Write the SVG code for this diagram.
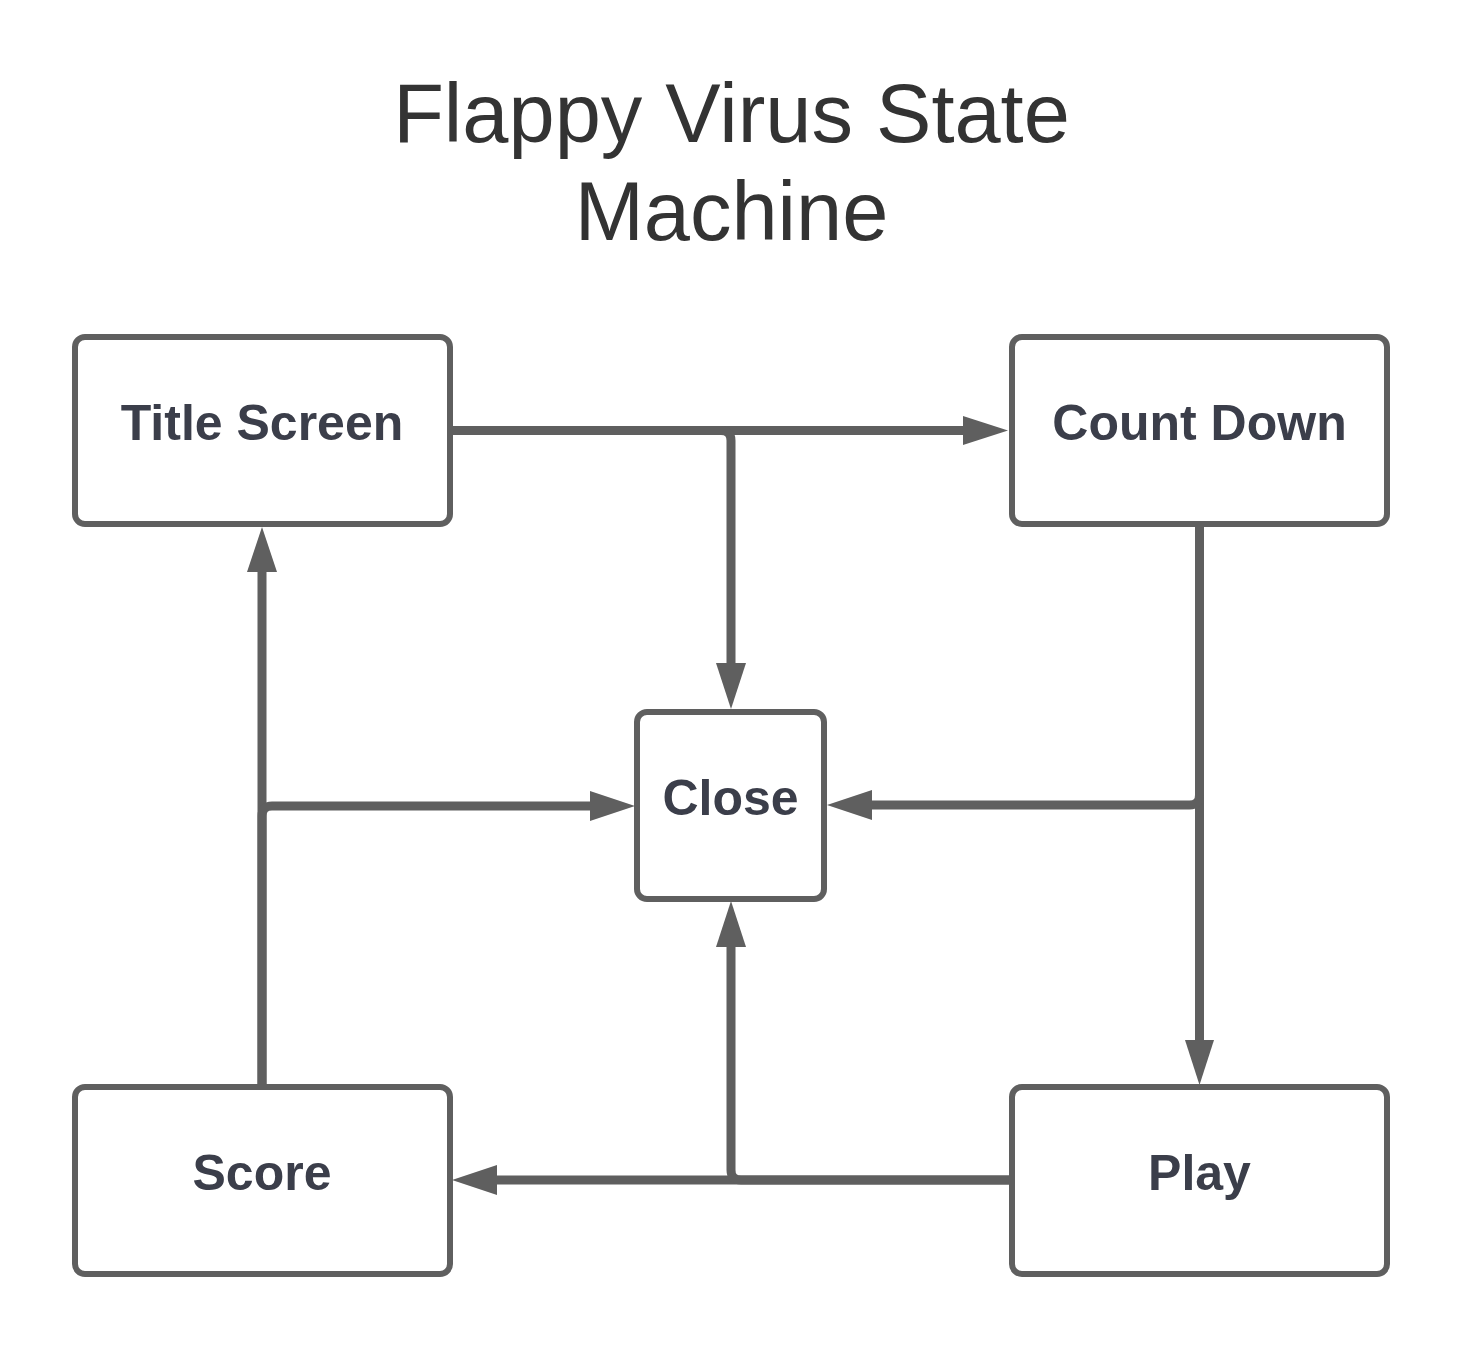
<svg xmlns="http://www.w3.org/2000/svg" width="1463" height="1350" viewBox="0 0 1463 1350">
<style>
.box{fill:#fff;stroke:#5f5f5f;stroke-width:6}
.lbl{font-family:"Liberation Sans",Arial,sans-serif;font-weight:bold;font-size:50px;fill:#3b3e4a;text-anchor:middle}
.title{font-family:"Liberation Sans",Arial,sans-serif;font-size:83px;fill:#333;text-anchor:middle}
.con{fill:none;stroke:#5f5f5f;stroke-width:9}
.head{fill:#5f5f5f}
</style>
<rect width="1463" height="1350" fill="#fff"/>
<text class="title" x="731.5" y="142">Flappy Virus State</text>
<text class="title" x="731.5" y="240">Machine</text>
<g id="connectors">
<path class="con" d="M452,430.5 H966"/>
<polygon class="head" points="963,416 1008,430.5 963,445"/>
<path class="con" d="M452,430.5 H721 Q731,430.5 731,440.5 V666"/>
<polygon class="head" points="716,663 731,709 746,663"/>
<path class="con" d="M1199.5,527 V1043"/>
<polygon class="head" points="1185,1040 1199.5,1085 1214,1040"/>
<path class="con" d="M1199.5,527 V795 Q1199.5,805 1189.5,805 H869"/>
<polygon class="head" points="872,790 827,805 872,820"/>
<path class="con" d="M262,1085 V569"/>
<polygon class="head" points="247,572 262,527 277,572"/>
<path class="con" d="M262,1085 V816 Q262,806 272,806 H593"/>
<polygon class="head" points="590,791 635,806 590,821"/>
<path class="con" d="M1009,1180 H494"/>
<polygon class="head" points="497,1165 452,1180 497,1195"/>
<path class="con" d="M1009,1180 H741 Q731,1180 731,1170 V944"/>
<polygon class="head" points="716,947 731,901 746,947"/>
</g>
<g id="title-screen">
<rect class="box" x="75" y="337" width="375" height="187" rx="10"/>
<text class="lbl" x="262" y="440">Title Screen</text>
</g>
<g id="count-down">
<rect class="box" x="1012" y="337" width="375" height="187" rx="10"/>
<text class="lbl" x="1199.5" y="440">Count Down</text>
</g>
<g id="close">
<rect class="box" x="637" y="712" width="187" height="187" rx="10"/>
<text class="lbl" x="730.5" y="815">Close</text>
</g>
<g id="score">
<rect class="box" x="75" y="1087" width="375" height="187" rx="10"/>
<text class="lbl" x="262" y="1190">Score</text>
</g>
<g id="play">
<rect class="box" x="1012" y="1087" width="375" height="187" rx="10"/>
<text class="lbl" x="1199.5" y="1190">Play</text>
</g>
</svg>
